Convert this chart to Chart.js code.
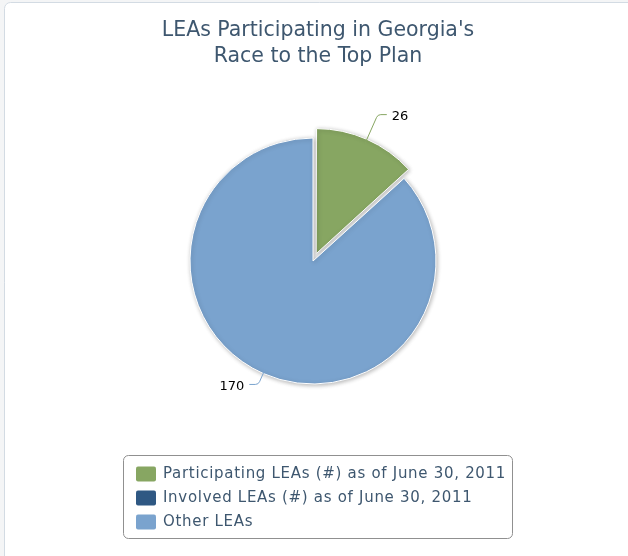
<!DOCTYPE html>
<html>
<head>
<meta charset="utf-8">
<title>LEAs Participating in Georgia's Race to the Top Plan</title>
<script src="https://cdn.jsdelivr.net/npm/chart.js@4.4.1/dist/chart.umd.min.js"></script>
<style>
  html, body { margin: 0; padding: 0; background: #f4f5f6; }
  #wrap { width: 628px; height: 556px; position: relative; }
</style>
</head>
<body>
<div id="wrap"><canvas id="pie" width="628" height="556"></canvas></div>
<script>
// LEA counts for the Race to the Top pie
const titleLines = ["LEAs Participating in Georgia's", 'Race to the Top Plan'];
const sliceLabels = ['Participating LEAs (#) as of June 30, 2011', 'Involved LEAs (#) as of June 30, 2011', 'Other LEAs'];
const sliceValues = [26, 0, 170];
const sliceColors = ['#87A662', '#2F5883', '#7AA3CE'];

const FONT = "'DejaVu Sans', 'Open Sans', sans-serif";
const TEXT_COLOR = '#3E576F';

// chart.js moves an offset arc by offset/4 * (1 + fix) along its mid angle
function arcShift(arc, offset) {
    const circ = arc.endAngle - arc.startAngle;
    const fix = 1 - Math.sin(Math.min(Math.PI, circ || 0));
    return (offset / 4) * (1 + fix);
}

// frame, title and the boxed legend
const chrome = {
    id: 'chrome',
    beforeDraw(chart) {
        const ctx = chart.ctx;
        ctx.save();
        ctx.fillStyle = '#ffffff';
        ctx.strokeStyle = '#d3dbe3';
        ctx.lineWidth = 1;
        ctx.beginPath();
        ctx.roundRect(4.5, 2.5, 640, 600, 6);
        ctx.fill();
        ctx.stroke();

        ctx.fillStyle = TEXT_COLOR;
        ctx.font = '20.5px ' + FONT;
        ctx.textAlign = 'center';
        ctx.textBaseline = 'alphabetic';
        titleLines.forEach((line, i) => ctx.fillText(line, 318, 36 + i * 26));
        ctx.restore();
    },
    afterDraw(chart) {
        const ctx = chart.ctx;
        ctx.save();
        ctx.strokeStyle = '#909090';
        ctx.lineWidth = 1;
        ctx.beginPath();
        ctx.roundRect(123.5, 455.5, 389, 83, 5);
        ctx.stroke();

        ctx.font = '15px ' + FONT;
        ctx.letterSpacing = '0.7px';
        ctx.textAlign = 'left';
        ctx.textBaseline = 'middle';
        sliceLabels.forEach((label, i) => {
            const y = 474 + i * 24;
            ctx.fillStyle = sliceColors[i];
            ctx.beginPath();
            ctx.roundRect(136, y - 7.5, 20, 15, 2);
            ctx.fill();
            ctx.fillStyle = TEXT_COLOR;
            ctx.fillText(label, 163, y);
        });
        ctx.restore();
    }
};

// soft drop shadow under the slices
const sliceShadow = {
    id: 'sliceShadow',
    beforeDatasetsDraw(chart) {
        const ctx = chart.ctx;
        ctx.save();
        ctx.shadowColor = 'rgba(0,0,0,0.28)';
        ctx.shadowBlur = 4;
        ctx.shadowOffsetX = 1;
        ctx.shadowOffsetY = 1;
    },
    afterDatasetsDraw(chart) {
        chart.ctx.restore();
    }
};

// value labels with bent connectors, positioned from the arc elements
const valueLabels = {
    id: 'valueLabels',
    afterDatasetsDraw(chart, args, opts) {
        const ctx = chart.ctx;
        const meta = chart.getDatasetMeta(0);
        ctx.save();
        ctx.font = '13px ' + FONT;
        ctx.textBaseline = 'middle';
        meta.data.forEach((arc, i) => {
            const v = sliceValues[i];
            if (!v) return;
            const p = arc.getProps(['x', 'y', 'startAngle', 'endAngle', 'outerRadius'], true);
            const mid = (p.startAngle + p.endAngle) / 2;
            const shift = arcShift(p, chart.data.datasets[0].offset[i] || 0);
            const dx = Math.cos(mid), dy = Math.sin(mid);
            const cx = p.x + dx * shift;
            const cy = p.y + dy * shift;
            const reach = opts.reach[i];
            const sx = cx + dx * (p.outerRadius - 10), sy = cy + dy * (p.outerRadius - 10);
            const ex = cx + dx * (p.outerRadius + reach), ey = cy + dy * (p.outerRadius + reach);
            const side = dx >= 0 ? 1 : -1;
            const hx = ex + side * 9;
            ctx.strokeStyle = sliceColors[i];
            ctx.lineWidth = 1;
            ctx.beginPath();
            ctx.moveTo(sx, sy);
            ctx.lineTo(ex - dx * 3, ey - dy * 3);
            ctx.quadraticCurveTo(ex, ey, ex + side * 3, ey);
            ctx.lineTo(hx, ey);
            ctx.stroke();
            ctx.fillStyle = '#000000';
            ctx.textAlign = side > 0 ? 'left' : 'right';
            ctx.fillText(String(v), hx + side * 5, ey + 2);
        });
        ctx.restore();
    }
};

new Chart(document.getElementById('pie'), {
    type: 'pie',
    data: {
        labels: sliceLabels,
        datasets: [{
            data: sliceValues,
            backgroundColor: sliceColors,
            borderColor: '#ffffff',
            borderWidth: 1,
            offset: [32, 0, 0],
            hoverOffset: 0
        }]
    },
    options: {
        responsive: false,
        animation: false,
        radius: 123,
        layout: { padding: { top: 80, bottom: 114, left: 0, right: 2 } },
        plugins: {
            legend: { display: false },
            tooltip: { enabled: false },
            valueLabels: { reach: [27, 0, 12] }
        }
    },
    plugins: [chrome, sliceShadow, valueLabels]
});
</script>
</body>
</html>
